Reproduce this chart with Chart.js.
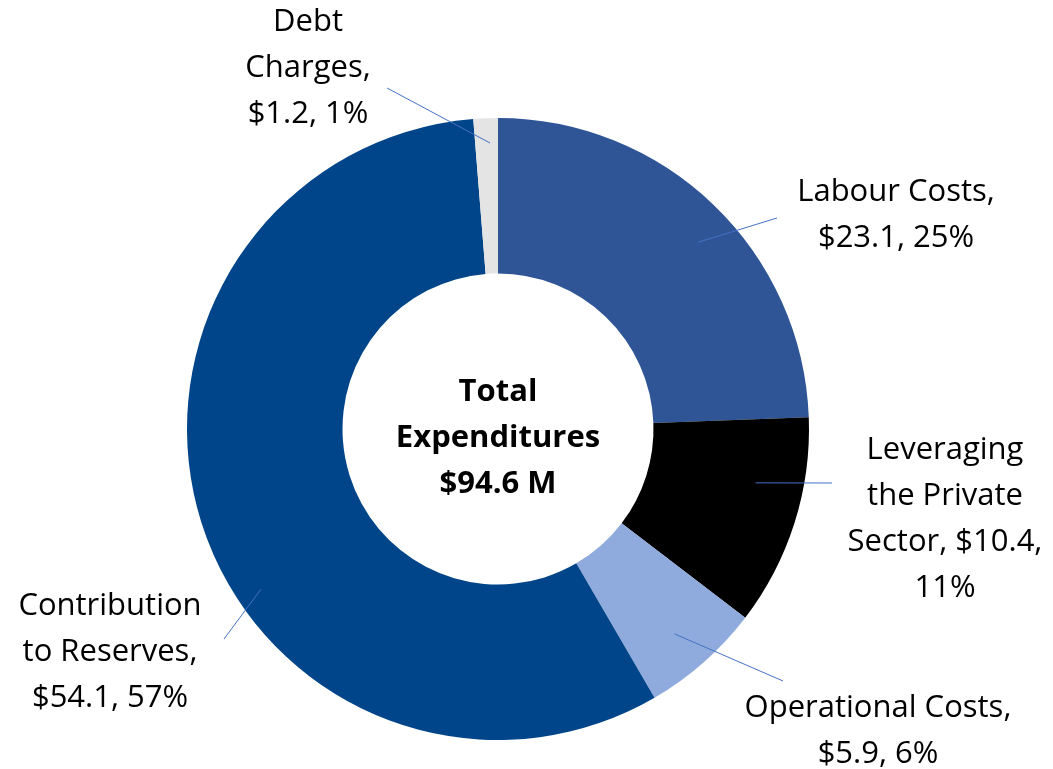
<!DOCTYPE html>
<html>
<head>
<meta charset="utf-8">
<script src="https://cdn.jsdelivr.net/npm/chart.js@4"></script>
<style>
  body { margin: 0; background: #fff; }
</style>
</head>
<body>
<canvas id="pie" width="1053" height="769"></canvas>
<script>
'use strict';

// 데이터
const categories = ['Labour Costs', 'Leveraging the Private Sector', 'Operational Costs', 'Contribution to Reserves', 'Debt Charges'];
const amounts = [23.1, 10.4, 5.9, 54.1, 1.2];
const percents = [25, 11, 6, 57, 1];
const centerLines = ['Total', 'Expenditures', '$94.6 M'];

const colors = ['#2F5597', '#000000', '#8FAADC', '#004589', '#E4E4E4'];

// 라벨 배치 (줄바꿈 단어 수, 텍스트 중심, 지시선)
const labelLayout = [
    { words: [2, 2],       x: 896, y: 192, t: 0.535, rf: 0.88, ex: 777, ey: 218 },
    { words: [1, 2, 2, 1], x: 945, y: 450, t: 0.354, rf: 0.846, ex: 832, ey: 483 },
    { words: [2, 2],       x: 878, y: 708, t: 0.53, rf: 0.87, ex: 783, ey: 681 },
    { words: [1, 2, 2],    x: 110, y: 606, t: 0.419, rf: 0.92, ex: 224, ey: 639 },
    { words: [1, 1, 2],    x: 308, y: 22,  t: 0.65, rf: 0.92, ex: 387, ey: 88 }
];
const FONT = '"Open Sans", Lato, sans-serif';
const LINE_H = 46;

function labelText(i) {
    const all = (categories[i] + ', $' + amounts[i].toFixed(1) + ', ' + percents[i] + '%').split(' ');
    const lines = [];
    let k = 0;
    labelLayout[i].words.forEach(function (n) {
        lines.push(all.slice(k, k + n).join(' '));
        k += n;
    });
    return lines;
}

const labelPlugin = {
    id: 'labelPlugin',
    afterDraw(chart) {
        const ctx = chart.ctx;
        const arcs = chart.getDatasetMeta(0).data;
        ctx.save();

        // 지시선
        arcs.forEach(function (arc, i) {
            const L = labelLayout[i];
            const a = arc.startAngle + L.t * (arc.endAngle - arc.startAngle);
            const r = arc.outerRadius * L.rf;
            ctx.beginPath();
            ctx.moveTo(arc.x + r * Math.cos(a), arc.y + r * Math.sin(a));
            ctx.lineTo(L.ex, L.ey);
            ctx.strokeStyle = '#4472C4';
            ctx.lineWidth = 1;
            ctx.stroke();
        });

        // 라벨 텍스트
        ctx.fillStyle = '#000';
        ctx.textAlign = 'center';
        ctx.textBaseline = 'middle';
        ctx.font = '31px ' + FONT;
        arcs.forEach(function (arc, i) {
            const L = labelLayout[i];
            labelText(i).forEach(function (s, j) {
                ctx.fillText(s, L.x, L.y + j * LINE_H);
            });
        });

        // 가운데 제목
        const cx = arcs[0].x, cy = arcs[0].y;
        ctx.font = 'bold 31px ' + FONT;
        centerLines.forEach(function (s, j) {
            ctx.fillText(s, cx, cy - 37 + j * LINE_H);
        });
        ctx.restore();
    }
};

const pie = document.getElementById('pie');
const pieChart = new Chart(pie, {
    type: 'doughnut',
    data: {
        labels: categories,
        datasets: [{
            data: amounts,
            backgroundColor: colors,
            borderWidth: 0
        }]
    },
    options: {
        responsive: false,
        animation: false,
        cutout: '50%',
        layout: {
            padding: { left: 187, right: 244, top: 118, bottom: 29 }
        },
        plugins: {
            legend: { display: false },
            tooltip: { enabled: false }
        }
    },
    plugins: [labelPlugin]
});
</script>
</body>
</html>
